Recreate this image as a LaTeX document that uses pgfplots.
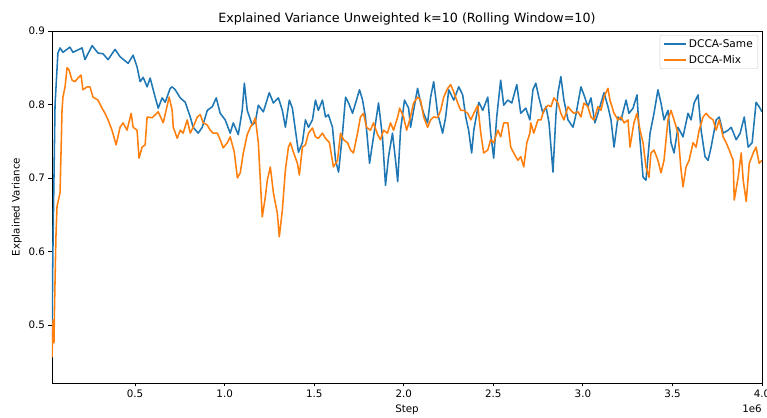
\documentclass[border=0pt]{standalone}
\usepackage{pgfplots}
\pgfplotsset{compat=1.18}
\usepackage{fontspec}
\setmainfont{DejaVu Sans}
\usetikzlibrary{calc}
\definecolor{mplblue}{HTML}{1F77B4}
\definecolor{mplorange}{HTML}{FF7F0E}
\begin{document}
\begin{tikzpicture}
\begin{axis}[
  scale only axis, width=710pt, height=352pt,
  xmin=0.036, xmax=4.0, ymin=0.421, ymax=0.9,
  xtick={0.5,1.0,1.5,2.0,2.5,3.0,3.5,4.0},
  ytick={0.5,0.6,0.7,0.8,0.9},
  tick label style={font=\fontsize{10.3}{12}\selectfont},
  label style={font=\fontsize{10.3}{12}\selectfont},
  title style={font=\fontsize{12.7}{15}\selectfont, yshift=-4pt},
  /pgf/number format/.cd, fixed, fixed zerofill, precision=1, assume math mode=true, /pgfplots/.cd,
  tick align=outside, tick pos=left, major tick length=3.5pt,
  every tick/.style={black, line width=0.8pt},
  axis line style={black, line width=0.8pt},
  title={Explained Variance Unweighted k=10 (Rolling Window=10)},
  xlabel={Step}, ylabel={Explained Variance},
  legend style={at={(0.9944,0.9886)}, anchor=north east, draw=black!20, rounded corners=2pt,
    fill=white, font=\fontsize{10.6}{13}\selectfont, row sep=2.6pt},
  legend cell align=left,
  legend image code/.code={\draw[#1, sharp corners] (0pt,0pt) -- (22pt,0pt);},
]
\addlegendimage{draw=mplblue, line width=2pt}
\addlegendentry{DCCA-Same}
\addlegendimage{draw=mplorange, line width=2pt}
\addlegendentry{DCCA-Mix}
\addplot[forget plot, draw=mplblue, line width=1.55pt, line join=round] table {
0.036 0.483
0.041 0.600
0.053 0.800
0.069 0.870
0.081 0.877
0.097 0.871
0.136 0.878
0.153 0.871
0.204 0.877
0.220 0.861
0.260 0.880
0.293 0.870
0.321 0.869
0.349 0.861
0.388 0.875
0.416 0.865
0.461 0.856
0.489 0.867
0.511 0.851
0.528 0.831
0.545 0.837
0.567 0.824
0.584 0.836
0.612 0.810
0.629 0.795
0.651 0.809
0.668 0.803
0.696 0.822
0.707 0.824
0.724 0.820
0.752 0.809
0.780 0.803
0.808 0.783
0.824 0.769
0.852 0.761
0.875 0.769
0.903 0.792
0.931 0.797
0.953 0.809
0.975 0.788
1.003 0.779
1.031 0.761
1.048 0.775
1.076 0.759
1.098 0.792
1.110 0.829
1.126 0.792
1.154 0.772
1.171 0.776
1.188 0.799
1.216 0.790
1.249 0.816
1.272 0.802
1.300 0.809
1.322 0.792
1.339 0.769
1.361 0.806
1.378 0.795
1.395 0.765
1.412 0.735
1.434 0.748
1.451 0.779
1.468 0.769
1.490 0.779
1.507 0.806
1.523 0.792
1.546 0.806
1.563 0.783
1.579 0.786
1.602 0.769
1.619 0.724
1.636 0.708
1.658 0.761
1.675 0.810
1.692 0.802
1.714 0.788
1.731 0.802
1.753 0.820
1.770 0.806
1.786 0.783
1.809 0.720
1.831 0.756
1.859 0.802
1.881 0.756
1.898 0.690
1.915 0.729
1.937 0.761
1.954 0.724
1.966 0.695
1.982 0.765
2.004 0.806
2.027 0.795
2.038 0.769
2.055 0.792
2.077 0.822
2.094 0.802
2.111 0.788
2.133 0.775
2.150 0.810
2.167 0.831
2.189 0.788
2.217 0.761
2.234 0.783
2.251 0.820
2.279 0.806
2.307 0.824
2.329 0.813
2.346 0.783
2.362 0.765
2.379 0.734
2.391 0.765
2.419 0.803
2.441 0.792
2.469 0.810
2.485 0.761
2.502 0.727
2.519 0.783
2.541 0.833
2.558 0.799
2.581 0.806
2.603 0.802
2.631 0.827
2.653 0.788
2.681 0.795
2.704 0.779
2.721 0.820
2.737 0.829
2.754 0.810
2.777 0.788
2.794 0.797
2.811 0.775
2.833 0.708
2.850 0.788
2.861 0.816
2.877 0.838
2.894 0.806
2.917 0.779
2.945 0.769
2.961 0.786
2.989 0.824
3.006 0.813
3.028 0.797
3.045 0.809
3.067 0.775
3.084 0.788
3.101 0.802
3.118 0.816
3.140 0.797
3.157 0.779
3.174 0.742
3.196 0.783
3.213 0.779
3.241 0.806
3.257 0.788
3.280 0.795
3.302 0.813
3.313 0.769
3.336 0.701
3.352 0.697
3.375 0.761
3.397 0.788
3.419 0.820
3.436 0.802
3.453 0.779
3.475 0.792
3.492 0.748
3.509 0.734
3.531 0.769
3.559 0.756
3.587 0.788
3.604 0.779
3.621 0.802
3.643 0.813
3.660 0.765
3.682 0.729
3.699 0.724
3.716 0.742
3.744 0.779
3.761 0.783
3.783 0.761
3.811 0.765
3.828 0.769
3.856 0.752
3.878 0.761
3.901 0.783
3.923 0.742
3.945 0.748
3.967 0.803
3.984 0.797
4.000 0.790
};
\addplot[forget plot, draw=mplorange, line width=1.55pt, line join=round] table {
0.036 0.456
0.039 0.476
0.042 0.507
0.047 0.476
0.050 0.524
0.058 0.620
0.064 0.661
0.072 0.670
0.081 0.680
0.092 0.792
0.097 0.810
0.109 0.824
0.120 0.850
0.131 0.847
0.148 0.833
0.164 0.831
0.181 0.836
0.198 0.840
0.209 0.820
0.232 0.824
0.248 0.824
0.265 0.810
0.293 0.806
0.315 0.795
0.332 0.788
0.349 0.779
0.371 0.765
0.394 0.745
0.416 0.769
0.433 0.775
0.455 0.765
0.478 0.788
0.489 0.769
0.511 0.765
0.522 0.727
0.539 0.742
0.556 0.745
0.567 0.783
0.595 0.782
0.612 0.786
0.629 0.790
0.657 0.775
0.673 0.792
0.690 0.810
0.707 0.792
0.713 0.769
0.735 0.754
0.752 0.765
0.768 0.761
0.791 0.779
0.808 0.761
0.824 0.769
0.847 0.783
0.864 0.786
0.880 0.775
0.903 0.772
0.919 0.765
0.936 0.761
0.959 0.761
0.975 0.752
0.992 0.741
1.015 0.748
1.031 0.756
1.054 0.735
1.071 0.700
1.087 0.707
1.104 0.734
1.126 0.759
1.143 0.769
1.160 0.775
1.171 0.782
1.188 0.748
1.210 0.647
1.227 0.674
1.238 0.697
1.255 0.715
1.272 0.680
1.294 0.652
1.305 0.620
1.322 0.656
1.339 0.711
1.356 0.742
1.367 0.748
1.384 0.735
1.406 0.720
1.417 0.704
1.434 0.742
1.451 0.745
1.468 0.761
1.490 0.768
1.507 0.756
1.523 0.754
1.546 0.761
1.563 0.754
1.585 0.748
1.607 0.715
1.630 0.724
1.647 0.761
1.664 0.752
1.686 0.748
1.703 0.738
1.719 0.734
1.742 0.761
1.758 0.783
1.775 0.788
1.792 0.769
1.814 0.765
1.831 0.775
1.854 0.759
1.870 0.752
1.887 0.765
1.909 0.761
1.926 0.775
1.943 0.765
1.966 0.783
1.977 0.795
1.999 0.783
2.016 0.765
2.033 0.779
2.055 0.802
2.077 0.810
2.094 0.806
2.111 0.783
2.133 0.769
2.150 0.779
2.167 0.783
2.189 0.782
2.206 0.792
2.223 0.810
2.245 0.822
2.262 0.827
2.279 0.817
2.301 0.802
2.318 0.792
2.334 0.792
2.357 0.788
2.374 0.779
2.391 0.788
2.413 0.799
2.430 0.761
2.446 0.734
2.469 0.738
2.485 0.752
2.502 0.748
2.525 0.765
2.541 0.756
2.558 0.775
2.581 0.775
2.597 0.742
2.614 0.734
2.637 0.724
2.653 0.729
2.670 0.715
2.687 0.748
2.704 0.761
2.709 0.775
2.726 0.761
2.749 0.779
2.766 0.779
2.782 0.792
2.805 0.799
2.822 0.797
2.838 0.809
2.861 0.802
2.877 0.788
2.894 0.779
2.917 0.797
2.933 0.792
2.950 0.788
2.973 0.790
2.989 0.783
3.006 0.802
3.028 0.797
3.045 0.783
3.062 0.779
3.084 0.797
3.101 0.792
3.118 0.810
3.140 0.822
3.151 0.806
3.174 0.788
3.196 0.779
3.213 0.783
3.230 0.775
3.252 0.779
3.263 0.742
3.285 0.775
3.302 0.788
3.319 0.765
3.336 0.748
3.352 0.715
3.369 0.701
3.380 0.734
3.397 0.738
3.419 0.724
3.436 0.707
3.453 0.724
3.475 0.779
3.492 0.792
3.509 0.779
3.531 0.761
3.548 0.711
3.559 0.688
3.576 0.715
3.593 0.724
3.615 0.748
3.632 0.742
3.649 0.765
3.671 0.783
3.688 0.788
3.705 0.783
3.727 0.779
3.744 0.765
3.761 0.779
3.783 0.756
3.800 0.748
3.817 0.738
3.839 0.724
3.845 0.670
3.867 0.701
3.884 0.734
3.895 0.697
3.912 0.668
3.929 0.720
3.951 0.734
3.967 0.742
3.984 0.720
4.000 0.724
};
\end{axis}
\node[anchor=north east, inner sep=0pt, font=\fontsize{10.3}{12}\selectfont] at ($(current axis.south east)+(0pt,-22pt)$) {1e6};
\pgfresetboundingbox
\path ($(current axis.south west)+(-52pt,-35pt)$) rectangle ($(current axis.north east)+(5pt,31pt)$);
\end{tikzpicture}
\end{document}
